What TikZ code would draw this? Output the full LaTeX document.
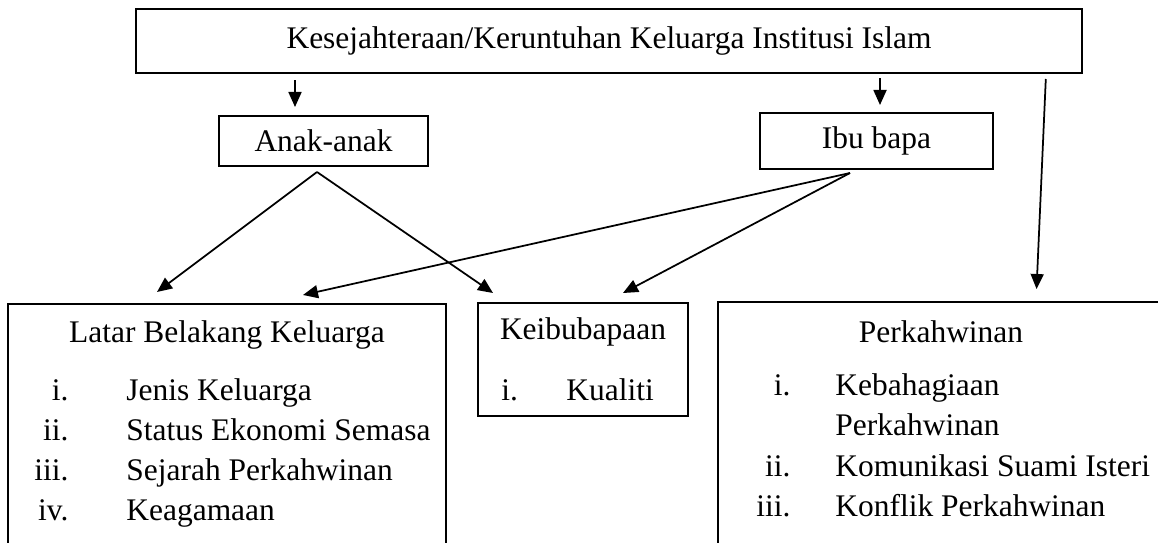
\documentclass[tikz,border=0pt]{standalone}
\usepackage{fontspec}
\setmainfont{Liberation Serif}
\usetikzlibrary{arrows.meta}

\begin{document}
\begin{tikzpicture}[x=0.2mm, y=-0.2mm,
    every node/.style={font=\fontsize{17.9}{22.8}\selectfont, inner sep=0pt},
    kotak/.style={draw, line width=0.4mm},
    pijl/.style={-{Triangle[length=3mm,width=2.6mm]}, line width=0.35mm}]
      \useasboundingbox (0,0) rectangle (1158,542);
      \clip (0,0) rectangle (1158,542);

      % Boxes (top)
      \node[kotak, minimum width=189.2mm, minimum height=12.8mm] (utama) at (609,41)
      {Kesejahteraan/Keruntuhan Keluarga Institusi Islam};
      \node[kotak, minimum width=41.8mm, minimum height=10mm] (anak) at (323.5,141) {Anak-anak};
      \node[kotak, minimum width=46.6mm, minimum height=11.2mm] (ibubapa) at (876.5,141) {Ibu bapa};

      % Boxes (bottom)
      \node[kotak, minimum width=87.6mm, minimum height=51.2mm] (latar) at (227,432) {};
      \node[kotak, minimum width=42mm, minimum height=22.6mm] (keibu) at (583,359.5) {};
      \node[kotak, minimum width=89.2mm, minimum height=51.6mm] (kahwin) at (941,431) {};

      % Texts (bottom)
      \node (latarjudul) at (227,335) {Latar Belakang Keluarga};
      \node[anchor=west] (latarsenarai) at (34,452.5) {\begin{tabular}{@{}r@{\hspace{11.6mm}}l@{}}
          i. & Jenis Keluarga\\ ii. & Status Ekonomi Semasa\\
          iii. & Sejarah Perkahwinan\\ iv. & Keagamaan
        \end{tabular}};

      \node (keibujudul) at (583,332) {Keibubapaan};
      \node[anchor=west] (keibusenarai) at (501,392) {\begin{tabular}{@{}r@{\hspace{9.7mm}}l@{}}
          i. & Kualiti
        \end{tabular}};

      \node (kahwinjudul) at (941,332) {Perkahwinan};
      \node[anchor=west] (kahwinsenarai) at (756,448) {\begin{tabular}{@{}r@{\hspace{9mm}}l@{}}
          i. & Kebahagiaan\\ & Perkahwinan\\
          ii. & Komunikasi Suami Isteri\\ iii. & Konflik Perkahwinan
        \end{tabular}};

      % Arrows (top)
      \coordinate (kaki1) at ([xshift=-5.7mm]anak.north);
      \coordinate (kaki2) at ([xshift=0.7mm]ibubapa.north);
      \draw[pijl, shorten <=1.2mm, shorten >=1.6mm] (kaki1 |- utama.south) -- (kaki1);
      \draw[pijl, shorten <=0.8mm, shorten >=1.4mm] (kaki2 |- utama.south) -- (kaki2);
      \draw[pijl, shorten <=1mm, shorten >=2.4mm] ([xshift=87.4mm]utama.south) -- ([xshift=19mm]kahwin.north);

      % Arrows (bottom)
      \coordinate (anakbawah) at ([xshift=-1.3mm,yshift=-1mm]anak.south);
      \coordinate (ibubawah) at ([xshift=-5.3mm,yshift=-0.6mm]ibubapa.south);
      \draw[pijl] (anakbawah) -- ([xshift=-14mm,yshift=2.2mm]latar.north);
      \draw[pijl] (anakbawah) -- ([xshift=-18mm,yshift=1.8mm]keibu.north);
      \draw[pijl] (ibubawah) -- ([xshift=15.2mm,yshift=1.6mm]latar.north);
      \draw[pijl] (ibubawah) -- ([xshift=8mm,yshift=1.8mm]keibu.north);
    \end{tikzpicture}
\end{document}
